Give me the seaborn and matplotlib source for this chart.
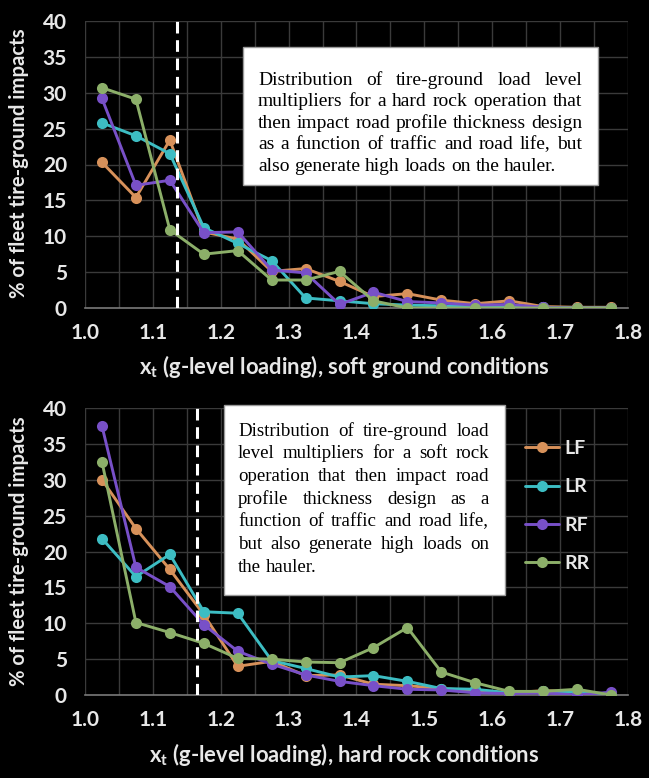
import matplotlib
matplotlib.use("Agg")
import matplotlib.pyplot as plt
import seaborn as sns
import pandas as pd
from matplotlib.patches import Rectangle

# ---------------- data ----------------
x_load = [1.025, 1.075, 1.125, 1.175, 1.225, 1.275, 1.325, 1.375,
          1.425, 1.475, 1.525, 1.575, 1.625, 1.675, 1.725, 1.775]

soft_LF = [20.3, 15.4, 23.4, 10.6, 9.6, 5.1, 5.5, 3.7, 1.6, 2.0, 1.1, 0.6, 1.0, 0.2, 0.1, 0.1]
soft_LR = [25.8, 24.0, 21.5, 11.2, 9.0, 6.6, 1.4, 1.0, 0.6, 0.4, 0.3, 0.2, 0.1, 0.1, 0.0, 0.0]
soft_RF = [29.2, 17.1, 17.8, 10.5, 10.6, 5.3, 4.9, 0.5, 2.2, 0.9, 0.7, 0.4, 0.5, 0.1, 0.0, 0.0]
soft_RR = [30.7, 29.1, 10.9, 7.5, 8.0, 3.9, 3.9, 5.1, 1.0, 0.0, 0.0, 0.0, 0.0, 0.0, 0.0, 0.0]

hard_LF = [30.0, 23.2, 17.5, 11.2, 4.0, 4.7, 2.7, 2.8, 1.5, 1.3, 0.9, 0.6, 0.3, 0.6, 0.5, 0.1]
hard_LR = [21.8, 16.5, 19.6, 11.6, 11.4, 4.8, 3.7, 2.5, 2.7, 1.9, 0.9, 0.8, 0.3, 0.5, 0.4, 0.1]
hard_RF = [37.5, 17.8, 15.1, 9.8, 6.1, 4.3, 2.8, 1.9, 1.3, 0.8, 0.7, 0.3, 0.2, 0.3, 0.0, 0.4]
hard_RR = [32.5, 10.1, 8.7, 7.2, 5.1, 5.0, 4.6, 4.5, 6.6, 9.4, 3.2, 1.7, 0.5, 0.5, 0.8, 0.0]

series_names = ["LF", "LR", "RF", "RR"]
series_colors = {"LF": "#D7915A", "LR": "#3DBDC3", "RF": "#7850C8", "RR": "#8CAF69"}

x_ticks = [1.0, 1.1, 1.2, 1.3, 1.4, 1.5, 1.6, 1.7, 1.8]
x_tick_labels = ["1.0", "1.1", "1.2", "1.3", "1.4", "1.5", "1.6", "1.7", "1.8"]
x_grid = [1.05, 1.15, 1.25, 1.35, 1.45, 1.55, 1.65, 1.75]
y_ticks = [0, 5, 10, 15, 20, 25, 30, 35, 40]
y_tick_labels = ["0", "5", "10", "15", "20", "25", "30", "35", "40"]

threshold_soft = 1.135
threshold_hard = 1.165

y_label = "% of fleet tire-ground impacts"
x_label_soft = r"$\mathregular{x_t}$ (g-level loading), soft ground conditions"
x_label_hard = r"$\mathregular{x_t}$ (g-level loading), hard rock conditions"

note_soft = ["Distribution of tire-ground load level",
             "multipliers for a hard rock operation that",
             "then impact road profile thickness design",
             "as a function of traffic and road life, but",
             "also generate high loads on the hauler."]
note_hard = ["Distribution of tire-ground load",
             "level multipliers for a soft rock",
             "operation that then impact road",
             "profile thickness design as a",
             "function of traffic and road life,",
             "but also generate high loads on",
             "the hauler."]

# ---------------- style ----------------
sns.set_theme(style="dark")
plt.rcParams["font.family"] = ["Lato", "DejaVu Sans"]
plt.rcParams["mathtext.fontset"] = "custom"

W, H = 649, 778
fig = plt.figure(figsize=(W / 100, H / 100), dpi=100, facecolor="black")

TXT = "#E8E8E8"
GRID = "#3A3A3A"


def add_axes_px(left, top, right, bottom):
    return fig.add_axes([left / W, 1 - bottom / H, (right - left) / W, (bottom - top) / H])


def make_panel(ax, vals, threshold, legend):
    frame = pd.DataFrame({
        "x": x_load * 4,
        "value": vals[0] + vals[1] + vals[2] + vals[3],
        "series": sum([[n] * len(x_load) for n in series_names], []),
    })
    ax.set_facecolor("black")
    for g in x_grid + x_ticks:
        ax.axvline(g, color=GRID, lw=1.0, zorder=0)
    for g in y_ticks[1:]:
        ax.axhline(g, color=GRID, lw=1.0, zorder=0)
    ax.grid(False)
    sns.lineplot(data=frame, x="x", y="value", hue="series", hue_order=series_names,
                 palette=series_colors, marker="o", markersize=8, markeredgewidth=0,
                 linewidth=2.1, estimator=None, sort=False, ax=ax, legend=legend, zorder=3)
    ax.axvline(threshold, color="white", lw=2.2, ls=(0, (3.8, 2.2)), zorder=4)
    ax.set_xlim(1.0, 1.8)
    ax.set_ylim(0, 40)
    ax.set_xticks(x_ticks)
    ax.set_xticklabels(x_tick_labels)
    ax.set_yticks(y_ticks)
    ax.set_yticklabels(y_tick_labels)
    ax.tick_params(axis="both", length=0, colors=TXT, labelsize=15)
    ax.tick_params(axis="x", pad=11)
    ax.tick_params(axis="y", pad=13)
    for lab in ax.get_xticklabels() + ax.get_yticklabels():
        lab.set_fontweight("bold")
    for s in ["left", "right", "top"]:
        ax.spines[s].set_visible(False)
    ax.spines["bottom"].set_color("#7A7A7A")
    ax.spines["bottom"].set_linewidth(1.2)
    ax.set_xlabel("")
    ax.set_ylabel("")
    if legend:
        handles, labels = ax.get_legend_handles_labels()
        leg = ax.legend(handles, labels, loc="upper left",
                        bbox_to_anchor=((525 - 85) / 543, (695 - 440) / 287),
                        frameon=False, fontsize=14, handlelength=1.75, handletextpad=0.3,
                        labelspacing=1.1, borderpad=0, borderaxespad=0, labelcolor=TXT)
        for t in leg.get_texts():
            t.set_fontweight("bold")
    return ax


ax1 = add_axes_px(85, 21, 628, 308)
ax2 = add_axes_px(85, 408, 628, 695)

make_panel(ax1, [soft_LF, soft_LR, soft_RF, soft_RR], threshold_soft, False)
make_panel(ax2, [hard_LF, hard_LR, hard_RF, hard_RR], threshold_hard, True)

# axis titles
fig.text(344 / W, 1 - 366 / H, x_label_soft, ha="center", va="center", color=TXT,
         fontsize=15.8, fontweight="bold")
fig.text(344 / W, 1 - 754 / H, x_label_hard, ha="center", va="center", color=TXT,
         fontsize=15.8, fontweight="bold")
fig.text(19 / W, 1 - 163 / H, y_label, ha="center", va="center", rotation=90, color=TXT,
         fontsize=14.6, fontweight="bold")
fig.text(19 / W, 1 - 551 / H, y_label, ha="center", va="center", rotation=90, color=TXT,
         fontsize=14.6, fontweight="bold")


# note boxes with justified text
def note_box(lines, box, x0, x1, baseline0, step, size):
    l, t, r, b = box
    fig.add_artist(Rectangle((l / W, 1 - b / H), (r - l) / W, (b - t) / H,
                             transform=fig.transFigure, facecolor="white",
                             edgecolor="#9A9A9A", lw=1.0, zorder=5))
    renderer = fig.canvas.get_renderer()
    em = size * 100 / 72
    for i, line in enumerate(lines):
        yb = baseline0 + step * i
        words = line.split()
        texts = [fig.text(0, 1 - yb / H, w, fontsize=size, family="Liberation Serif",
                          color="black", ha="left", va="baseline", zorder=6) for w in words]
        widths = [tx.get_window_extent(renderer).width for tx in texts]
        last = i == len(lines) - 1
        if last or len(words) == 1:
            space = em * 0.25
        else:
            space = max((x1 - x0 - sum(widths)) / (len(words) - 1), em * 0.18)
        xp = x0
        for tx, wd in zip(texts, widths):
            tx.set_x(xp / W)
            xp += wd + space


note_box(note_soft, (243, 47, 598, 185), 258, 582, 85, 21.4, 14.0)
note_box(note_hard, (224, 405, 505, 595), 238, 489, 435.7, 22.67, 13.6)

fig.savefig("out.png", dpi=100, facecolor="black")
